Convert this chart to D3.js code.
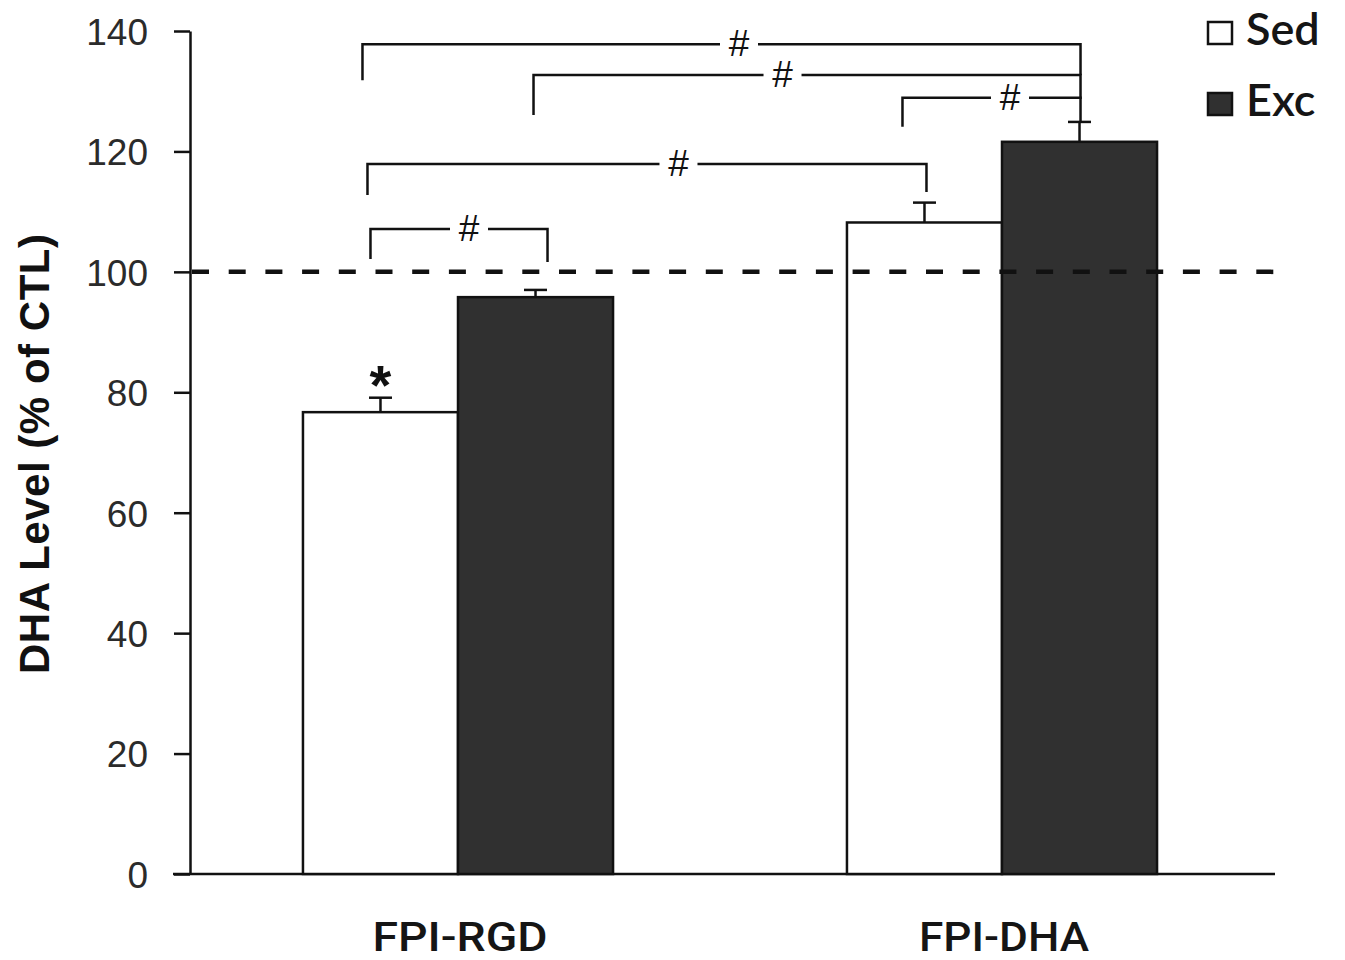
<!DOCTYPE html>
<html>
<head>
<meta charset="utf-8">
<script src="https://cdn.jsdelivr.net/npm/d3@7"></script>
<style>
  body { margin: 0; background: #fff; }
  svg { display: block; }
  .tick text { font-family: "Liberation Sans", Arial, sans-serif; font-size: 37px; fill: #2b2b2b; }
  .tick line, .domain { stroke: #111; stroke-width: 2.5px; }
</style>
</head>
<body>
<div id="chart"></div>
<script>
// groups on the x axis and the two series
var categories = ["FPI-RGD", "FPI-DHA"];
var series = ["Sed", "Exc"];

// DHA level, % of control (mean and SEM)
var sedValues = [76.7, 108.2];
var excValues = [95.8, 121.6];
var sedErrors = [2.4, 3.3];
var excErrors = [1.2, 3.3];

var yTicks = [0, 20, 40, 60, 80, 100, 120, 140];
var controlLevel = 100;

// significance brackets: [category, series] -> [category, series], level in y units
var brackets = [
  {from: ["FPI-RGD", "Sed"], to: ["FPI-DHA", "Exc"], level: 137.8, label: "#"},
  {from: ["FPI-RGD", "Exc"], to: ["FPI-DHA", "Exc"], level: 132.7, label: "#"},
  {from: ["FPI-DHA", "Sed"], to: ["FPI-DHA", "Exc"], level: 128.9, label: "#"},
  {from: ["FPI-RGD", "Sed"], to: ["FPI-DHA", "Sed"], level: 117.9, label: "#"},
  {from: ["FPI-RGD", "Sed"], to: ["FPI-RGD", "Exc"], level: 107.1, label: "#"}
];
var stars = [{at: ["FPI-RGD", "Sed"], label: "*"}];

var width = 1345,
    height = 960;

var colors = {Sed: "#ffffff", Exc: "#303030"};

var svg = d3.select("#chart").append("svg")
    .attr("width", width)
    .attr("height", height);

var x = d3.scaleBand()
    .domain(categories)
    .range([186, 1274])
    .paddingInner(0.43)
    .paddingOuter(0.215);

var xs = d3.scaleBand()
    .domain(series)
    .range([0, x.bandwidth()]);

var y = d3.scaleLinear()
    .domain([0, 140])
    .range([874, 31]);

// flatten into one record per bar
var bars = [];
categories.forEach(function(c, i) {
  bars.push({cat: c, ser: "Sed", value: sedValues[i], err: sedErrors[i]});
  bars.push({cat: c, ser: "Exc", value: excValues[i], err: excErrors[i]});
});
function findBar(key) {
  return bars.filter(function(b) { return b.cat === key[0] && b.ser === key[1]; })[0];
}
function barCenter(b) { return x(b.cat) + xs(b.ser) + xs.bandwidth() / 2; }

// y axis
var yAxis = svg.append("g")
    .attr("transform", "translate(190,0)")
    .call(d3.axisLeft(y).tickValues(yTicks).tickSize(16).tickSizeOuter(0).tickPadding(26));
yAxis.selectAll(".tick text").attr("dy", "0.36em");

// x axis base line
svg.append("line")
    .attr("x1", 173).attr("x2", 1275)
    .attr("y1", y(0)).attr("y2", y(0))
    .attr("stroke", "#111").attr("stroke-width", 2.5);

// bars
svg.selectAll("rect.bar")
  .data(bars).enter().append("rect")
    .attr("class", "bar")
    .attr("x", function(d) { return x(d.cat) + xs(d.ser); })
    .attr("y", function(d) { return y(d.value); })
    .attr("width", xs.bandwidth())
    .attr("height", function(d) { return y(0) - y(d.value); })
    .attr("fill", function(d) { return colors[d.ser]; })
    .attr("stroke", "#111")
    .attr("stroke-width", 2.5);

// error bars (upper only)
var eb = svg.selectAll("g.err")
  .data(bars).enter().append("g").attr("class", "err");
eb.append("line")
    .attr("x1", barCenter).attr("x2", barCenter)
    .attr("y1", function(d) { return y(d.value); })
    .attr("y2", function(d) { return y(d.value + d.err); })
    .attr("stroke", "#111").attr("stroke-width", 2.5);
eb.append("line")
    .attr("x1", function(d) { return barCenter(d) - 11.5; })
    .attr("x2", function(d) { return barCenter(d) + 11.5; })
    .attr("y1", function(d) { return y(d.value + d.err); })
    .attr("y2", function(d) { return y(d.value + d.err); })
    .attr("stroke", "#111").attr("stroke-width", 2.5);

// dashed control line
svg.append("line")
    .attr("x1", 192).attr("x2", 1284)
    .attr("y1", y(controlLevel)).attr("y2", y(controlLevel))
    .attr("stroke", "#111").attr("stroke-width", 4.5)
    .attr("stroke-dasharray", "17,19.7");

// brackets: small nudges so the legs do not stack on top of each other
var legShift = [[-18, 1], [-2, 1], [-22, 1], [-13, 2], [-10, 12]];
var legDrop = [[36, 31], [40, 24], [29, 25], [31, 28], [30, 33]];
var labelShift = [9, -25, 8, 26, 11];

var br = svg.selectAll("g.bracket")
  .data(brackets).enter().append("g").attr("class", "bracket");
br.append("path")
    .attr("d", function(d, i) {
      var x1 = barCenter(findBar(d.from)) + legShift[i][0],
          x2 = barCenter(findBar(d.to)) + legShift[i][1],
          yy = y(d.level);
      return "M" + x1 + "," + (yy + legDrop[i][0]) + "V" + yy + "H" + x2 + "V" + (yy + legDrop[i][1]);
    })
    .attr("fill", "none")
    .attr("stroke", "#111")
    .attr("stroke-width", 2.5);
br.append("rect")
    .attr("x", function(d, i) {
      return (barCenter(findBar(d.from)) + barCenter(findBar(d.to))) / 2 + labelShift[i] - 19;
    })
    .attr("y", function(d) { return y(d.level) - 6; })
    .attr("width", 38).attr("height", 12)
    .attr("fill", "#fff");
br.append("text")
    .attr("x", function(d, i) {
      return (barCenter(findBar(d.from)) + barCenter(findBar(d.to))) / 2 + labelShift[i];
    })
    .attr("y", function(d) { return y(d.level) + 12; })
    .attr("text-anchor", "middle")
    .style("font-family", "Liberation Sans, Arial, sans-serif")
    .style("font-size", "37px")
    .attr("fill", "#111")
    .text(function(d) { return d.label; });

// significance star
svg.selectAll("text.star")
  .data(stars).enter().append("text")
    .attr("class", "star")
    .attr("x", function(d) { return barCenter(findBar(d.at)); })
    .attr("y", function(d) { var b = findBar(d.at); return y(b.value + b.err) + 6; })
    .attr("text-anchor", "middle")
    .style("font-family", "Liberation Sans, Arial, sans-serif")
    .style("font-weight", "bold")
    .style("font-size", "56px")
    .attr("fill", "#111")
    .text(function(d) { return d.label; });

// category labels
svg.selectAll("text.cat")
  .data(categories).enter().append("text")
    .attr("class", "cat")
    .attr("x", function(d) { return x(d) + x.bandwidth() / 2 + 2; })
    .attr("y", 951)
    .attr("text-anchor", "middle")
    .attr("textLength", function(d, i) { return i === 0 ? 175 : 170; })
    .attr("lengthAdjust", "spacingAndGlyphs")
    .style("font-family", "Roboto, sans-serif")
    .style("font-weight", "500")
    .style("font-size", "41px")
    .attr("fill", "#151515")
    .text(function(d) { return d; });

// y axis title
svg.append("text")
    .attr("transform", "translate(49,454) rotate(-90)")
    .attr("text-anchor", "middle")
    .attr("textLength", 440)
    .attr("lengthAdjust", "spacing")
    .style("font-family", "Liberation Sans, Arial, sans-serif")
    .style("font-weight", "bold")
    .style("font-size", "42px")
    .attr("fill", "#111")
    .text("DHA Level (% of CTL)");

// legend
var legend = svg.selectAll("g.legend")
  .data(series).enter().append("g")
    .attr("class", "legend")
    .attr("transform", function(d, i) { return "translate(1208," + (22 + i * 71) + ")"; });
legend.append("rect")
    .attr("width", 24).attr("height", 22)
    .attr("fill", function(d) { return colors[d]; })
    .attr("stroke", "#111").attr("stroke-width", 2.5);
legend.append("text")
    .attr("x", 38).attr("y", 23)
    .style("font-family", "Lato, sans-serif")
    .style("font-size", "45px")
    .style("font-weight", "600")
    .attr("fill", "#151515")
    .text(function(d) { return d; });
</script>
</body>
</html>
